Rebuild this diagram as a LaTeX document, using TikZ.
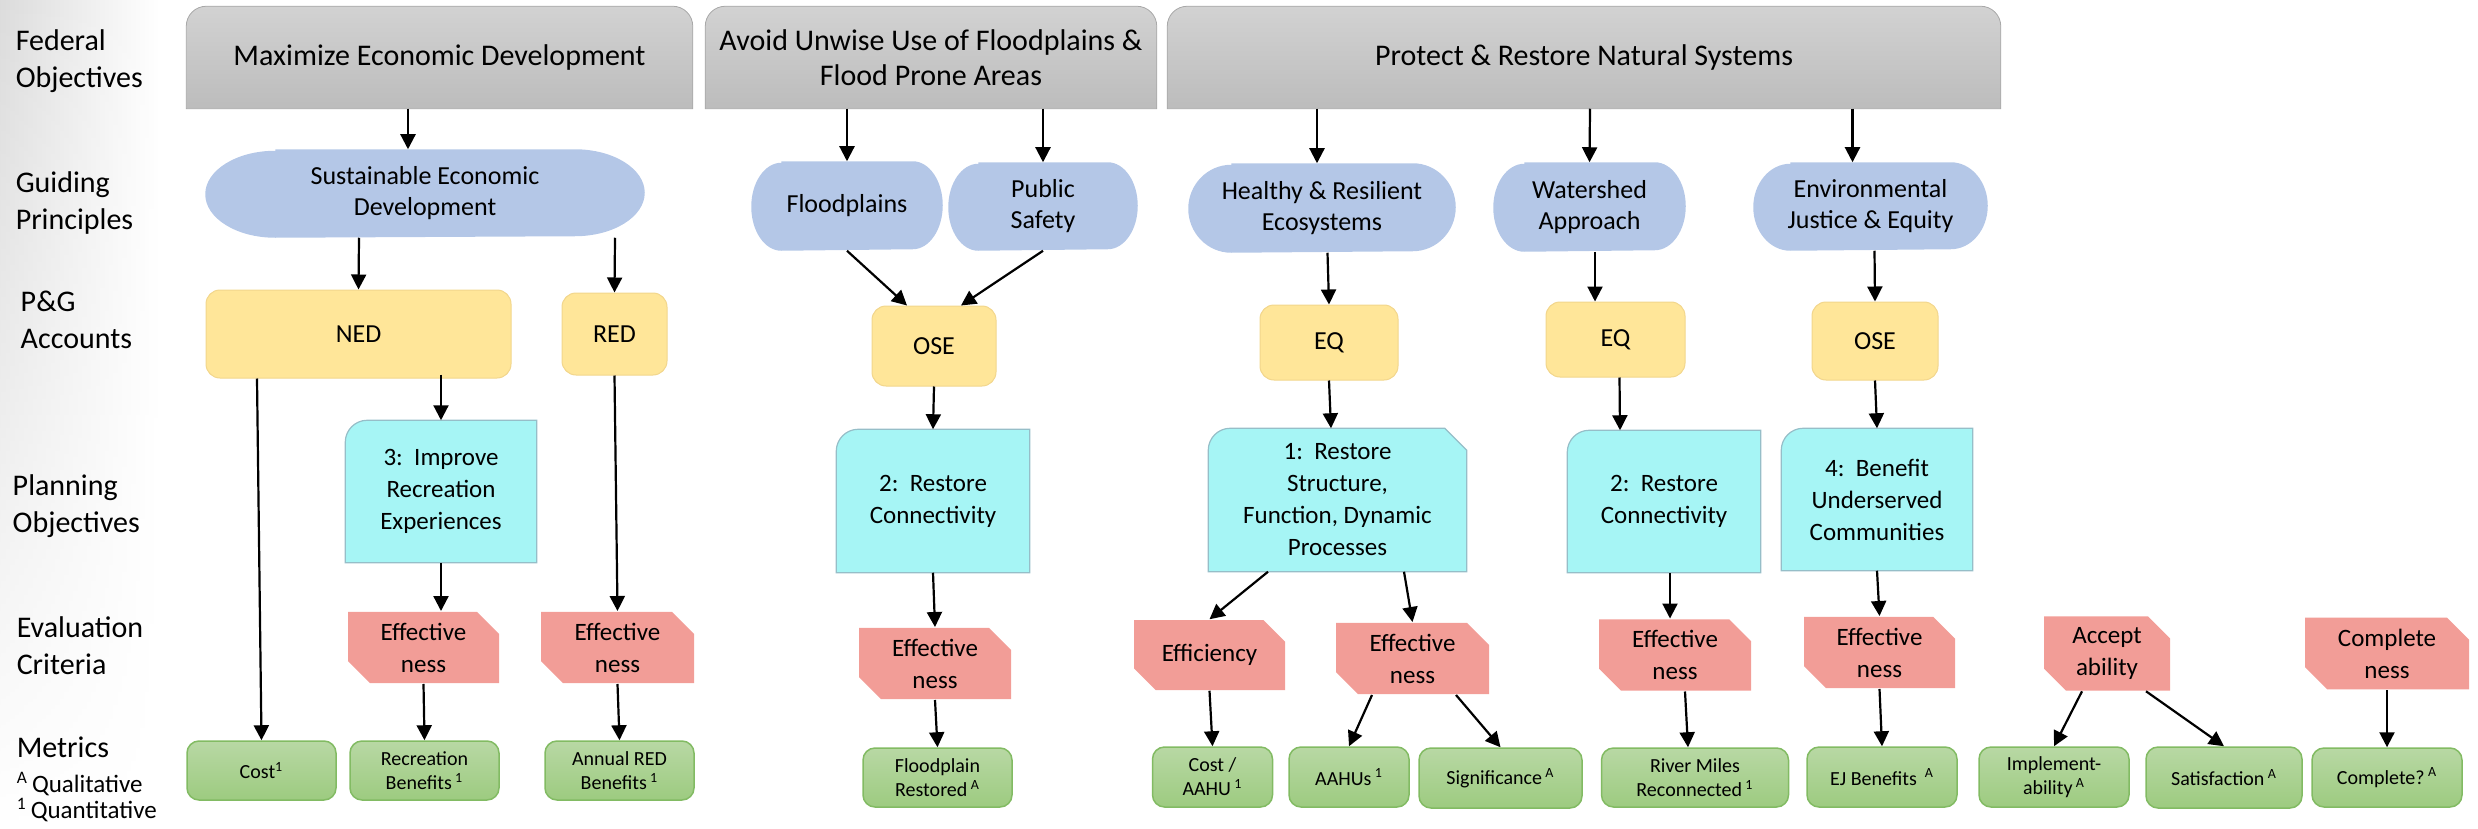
\documentclass[tikz,border=0pt]{standalone}
\usepackage{fontspec}
\setmainfont{Carlito}
\usetikzlibrary{arrows.meta,shapes.misc,calc,backgrounds,fadings}

\definecolor{fedtop}{RGB}{210,210,210}
\definecolor{fedbot}{RGB}{188,188,188}
\definecolor{fedline}{RGB}{168,168,168}
\definecolor{gpblue}{RGB}{180,199,231}
\definecolor{accyellow}{RGB}{255,230,153}
\definecolor{accline}{RGB}{242,214,140}
\definecolor{pocyan}{RGB}{166,245,245}
\definecolor{poline}{RGB}{150,190,200}
\definecolor{ecred}{RGB}{242,157,151}
\definecolor{mettop}{RGB}{184,216,164}
\definecolor{metbot}{RGB}{157,203,128}
\definecolor{metline}{RGB}{130,187,99}

\tikzset{every picture/.style={line width=0.75pt}}

\begin{document}
\begin{tikzpicture}[x=0.5pt,y=0.5pt,yscale=-1,xscale=1,
  arr/.style={-{Triangle[length=7.5pt,width=7.5pt]}, line width=1.1pt},
  rowlabel/.style={anchor=west, align=left, inner sep=0pt, font=\fontsize{15}{18.5}\selectfont},
  fedbox/.style={inner sep=0pt, align=center, font=\fontsize{15}{17.5}\selectfont},
  gpbox/.style={inner sep=0pt, align=center, font=\fontsize{13}{15.5}\selectfont},
  accbox/.style={rounded corners=7pt, fill=accyellow, draw=accline, line width=0.5pt, inner sep=0pt, font=\fontsize{13}{15.5}\selectfont},
  pobox/.style={inner sep=0pt, align=center, font=\fontsize{12.5}{16}\selectfont},
  ecbox/.style={chamfered rectangle, chamfered rectangle corners={north east,south west}, chamfered rectangle xsep=5.5pt, chamfered rectangle ysep=5.5pt, fill=ecred, inner sep=0pt, align=center, font=\fontsize{12.5}{16}\selectfont},
  metbox/.style={rounded corners=6pt, top color=mettop, bottom color=metbot, draw=metline, line width=0.75pt, inner sep=0pt, align=center, font=\fontsize{10}{12}\selectfont}]
\useasboundingbox (0,0) rectangle (2478,829);

% slide shading at the left edge
\shade[left color=black!14, right color=white, path fading=south] (0,0) rectangle (160,829);

% Row labels
\node[rowlabel] (lfed) at (15,61) {Federal\\Objectives};
\node[rowlabel] (lgp) at (15,203) {Guiding\\Principles};
\node[rowlabel] (lacc) at (20,320) {P\&G\\Accounts};
\node[rowlabel] (lpo) at (12,506) {Planning\\Objectives};
\node[rowlabel] (lec) at (16,646) {Evaluation\\Criteria};
\node[rowlabel] (lmet) at (16,747) {Metrics};
\node[anchor=west, align=left, inner sep=0pt, font=\fontsize{12.5}{13}\selectfont] (lkey) at (16,797) {\textsuperscript{A}\,Qualitative\\\textsuperscript{1}\,Quantitative};

% Federal objectives
\node[fedbox, minimum width=252.5pt, minimum height=50.5pt] (fedA) at (439.5,57.5) {Maximize Economic Development};
\node[fedbox, minimum width=225pt, minimum height=50.5pt] (fedB) at (931,57.5) {Avoid Unwise Use of Floodplains \&\\Flood Prone Areas};
\node[fedbox, minimum width=416pt, minimum height=50.5pt] (fedC) at (1584,57.5) {Protect \& Restore Natural Systems};

% Guiding principles
\node[gpbox, minimum width=219pt, minimum height=43.5pt] (sed) at (425,193.5) {Sustainable Economic\\Development};
\node[gpbox, minimum width=95pt, minimum height=44pt] (flood) at (847,206) {Floodplains};
\node[gpbox, minimum width=94pt, minimum height=43.5pt] (safety) at (1043,206.5) {Public\\Safety};
\node[gpbox, minimum width=133pt, minimum height=44pt] (heco) at (1322,208) {Healthy \& Resilient\\Ecosystems};
\node[gpbox, minimum width=95.5pt, minimum height=44pt] (water) at (1589.5,207) {Watershed\\Approach};
\node[gpbox, minimum width=116.5pt, minimum height=43.5pt] (ejust) at (1870.5,206.5) {Environmental\\Justice \& Equity};

% P&G accounts
\node[accbox, minimum width=152.5pt, minimum height=44pt] (ned) at (358.5,334) {NED};
\node[accbox, minimum width=52.5pt, minimum height=41pt] (red) at (614.5,334) {RED};
\node[accbox, minimum width=62pt, minimum height=40pt] (ose) at (934,346) {OSE};
\node[accbox, minimum width=69pt, minimum height=37.5pt] (eqA) at (1329,342.5) {EQ};
\node[accbox, minimum width=69.5pt, minimum height=37.5pt] (eqB) at (1615.5,339.5) {EQ};
\node[accbox, minimum width=63pt, minimum height=39pt] (oseB) at (1875,341) {OSE};

% Planning objectives
\node[pobox, minimum width=95pt, minimum height=70.5pt] (recr) at (441,491.5) {3:~~Improve\\Recreation\\Experiences};
\node[pobox, minimum width=96pt, minimum height=71pt] (connA) at (933,501) {2:~~Restore\\Connectivity};
\node[pobox, minimum width=128.5pt, minimum height=71pt] (rsf) at (1337.5,500) {1:~~Restore\\Structure,\\Function, Dynamic\\Processes};
\node[pobox, minimum width=96pt, minimum height=70.5pt] (connB) at (1664,501.5) {2:~~Restore\\Connectivity};
\node[pobox, minimum width=95pt, minimum height=70.5pt] (under) at (1877,499.5) {4:~~Benefit\\Underserved\\Communities};

% Evaluation criteria
\node[ecbox, minimum width=75.5pt, minimum height=35.5pt] (effA) at (423.5,647.5) {Effective\\ness};
\node[ecbox, minimum width=76.5pt, minimum height=35.5pt] (effB) at (617.5,647.5) {Effective\\ness};
\node[ecbox, minimum width=76pt, minimum height=35.5pt] (effC) at (935,663.5) {Effective\\ness};
\node[ecbox, minimum width=75.5pt, minimum height=35pt] (effic) at (1209.5,655) {Efficiency};
\node[ecbox, minimum width=76.5pt, minimum height=35.5pt] (effD) at (1412.5,658.5) {Effective\\ness};
\node[ecbox, minimum width=76pt, minimum height=35pt] (effE) at (1675,655) {Effective\\ness};
\node[ecbox, minimum width=75.5pt, minimum height=35.5pt] (effF) at (1879.5,652.5) {Effective\\ness};
\node[ecbox, minimum width=63pt, minimum height=35.5pt] (accept) at (2107,653.5) {Accept\\ability};
\node[ecbox, minimum width=82pt, minimum height=35.5pt] (compl) at (2387,653.5) {Complete\\ness};

% Metrics
\node[metbox, minimum width=74.5pt, minimum height=29.5pt] (cost) at (261.5,770.5) {Cost\textsuperscript{1}};
\node[metbox, minimum width=74.5pt, minimum height=29.5pt] (recb) at (424.5,770.5) {Recreation\\Benefits\,\textsuperscript{1}};
\node[metbox, minimum width=74.5pt, minimum height=29.5pt] (annual) at (619.5,770.5) {Annual RED\\Benefits\,\textsuperscript{1}};
\node[metbox, minimum width=74.5pt, minimum height=29.5pt] (fpr) at (937.5,777.5) {Floodplain\\Restored\,\textsuperscript{A}};
\node[metbox, minimum width=60pt, minimum height=30pt] (costa) at (1212.5,777) {Cost /\\AAHU\,\textsuperscript{1}};
\node[metbox, minimum width=60pt, minimum height=30pt] (aahu) at (1349,777) {AAHUs\,\textsuperscript{1}};
\node[metbox, minimum width=81.5pt, minimum height=30pt] (signif) at (1500.5,778) {Significance\,\textsuperscript{A}};
\node[metbox, minimum width=93.5pt, minimum height=29.5pt] (river) at (1695,777.5) {River Miles\\Reconnected\,\textsuperscript{1}};
\node[metbox, minimum width=75pt, minimum height=30pt] (ejb) at (1882,777) {EJ Benefits~\,\textsuperscript{A}};
\node[metbox, minimum width=75pt, minimum height=30pt] (implem) at (2054,777) {Implement-\\ability\,\textsuperscript{A}};
\node[metbox, minimum width=78pt, minimum height=30.5pt] (satis) at (2224,777.5) {Satisfaction\,\textsuperscript{A}};
\node[metbox, minimum width=75pt, minimum height=29.5pt] (compq) at (2387,777.5) {Complete?\,\textsuperscript{A}};

\begin{scope}[on background layer]
% gray objective boxes, rounded on top
\shadedraw[top color=fedtop, bottom color=fedbot, draw=fedline] (fedA.south west) -- ($(fedA.north west)+(0,20)$) arc[start angle=180, end angle=270, radius=20] -- ($(fedA.north east)+(-20,0)$) arc[start angle=270, end angle=360, radius=20] -- (fedA.south east) -- cycle;
\shadedraw[top color=fedtop, bottom color=fedbot, draw=fedline] (fedB.south west) -- ($(fedB.north west)+(0,20)$) arc[start angle=180, end angle=270, radius=20] -- ($(fedB.north east)+(-20,0)$) arc[start angle=270, end angle=360, radius=20] -- (fedB.south east) -- cycle;
\shadedraw[top color=fedtop, bottom color=fedbot, draw=fedline] (fedC.south west) -- ($(fedC.north west)+(0,20)$) arc[start angle=180, end angle=270, radius=20] -- ($(fedC.north east)+(-20,0)$) arc[start angle=270, end angle=360, radius=20] -- (fedC.south east) -- cycle;

% terminator shapes
\fill[gpblue] ($(sed.north west)+(70,0)$) -- ($(sed.north east)+(-70,0)$) arc[start angle=-90, end angle=90, x radius=70, y radius=43.5] -- ($(sed.south west)+(70,0)$) arc[start angle=90, end angle=270, x radius=70, y radius=43.5] -- cycle;
\fill[gpblue] ($(flood.north west)+(30,0)$) -- ($(flood.north east)+(-30,0)$) arc[start angle=-90, end angle=90, x radius=30, y radius=44] -- ($(flood.south west)+(30,0)$) arc[start angle=90, end angle=270, x radius=30, y radius=44] -- cycle;
\fill[gpblue] ($(safety.north west)+(30,0)$) -- ($(safety.north east)+(-30,0)$) arc[start angle=-90, end angle=90, x radius=30, y radius=43.5] -- ($(safety.south west)+(30,0)$) arc[start angle=90, end angle=270, x radius=30, y radius=43.5] -- cycle;
\fill[gpblue] ($(heco.north west)+(43,0)$) -- ($(heco.north east)+(-43,0)$) arc[start angle=-90, end angle=90, x radius=43, y radius=44] -- ($(heco.south west)+(43,0)$) arc[start angle=90, end angle=270, x radius=43, y radius=44] -- cycle;
\fill[gpblue] ($(water.north west)+(31,0)$) -- ($(water.north east)+(-31,0)$) arc[start angle=-90, end angle=90, x radius=31, y radius=44] -- ($(water.south west)+(31,0)$) arc[start angle=90, end angle=270, x radius=31, y radius=44] -- cycle;
\fill[gpblue] ($(ejust.north west)+(37,0)$) -- ($(ejust.north east)+(-37,0)$) arc[start angle=-90, end angle=90, x radius=37, y radius=43.5] -- ($(ejust.south west)+(37,0)$) arc[start angle=90, end angle=270, x radius=37, y radius=43.5] -- cycle;

% planning objective boxes, one rounded corner
\filldraw[fill=pocyan, draw=poline, line width=0.6pt] (recr.north east) -- (recr.south east) -- (recr.south west) -- ($(recr.north west)+(0,22)$) arc[start angle=180, end angle=270, radius=22] -- cycle;
\filldraw[fill=pocyan, draw=poline, line width=0.6pt] (connA.north east) -- (connA.south east) -- (connA.south west) -- ($(connA.north west)+(0,22)$) arc[start angle=180, end angle=270, radius=22] -- cycle;
\filldraw[fill=pocyan, draw=poline, line width=0.6pt] (rsf.south east) -- (rsf.south west) -- ($(rsf.north west)+(0,22)$) arc[start angle=180, end angle=270, radius=22] -- ($(rsf.north east)+(-22,0)$) -- ($(rsf.north east)+(0,22)$) -- cycle;
\filldraw[fill=pocyan, draw=poline, line width=0.6pt] (connB.north east) -- (connB.south east) -- (connB.south west) -- ($(connB.north west)+(0,22)$) arc[start angle=180, end angle=270, radius=22] -- cycle;
\filldraw[fill=pocyan, draw=poline, line width=0.6pt] (under.north east) -- (under.south east) -- (under.south west) -- ($(under.north west)+(0,22)$) arc[start angle=180, end angle=270, radius=22] -- cycle;
\end{scope}

% Maximize Economic Development column
\draw[arr] ([xshift=-15.75pt]fedA.south) -- ([xshift=-8.5pt]sed.north);
\draw[arr] ([xshift=-33pt]sed.south) -- (ned.north);
\draw[arr] ([xshift=95pt]sed.south) -- (red.north);
\draw[arr] ([xshift=-50.75pt]ned.south) -- (cost.north);
\draw[arr] ([xshift=41.25pt,yshift=-2pt]ned.south) -- (recr.north);
\draw[arr] (recr.south) -- ([xshift=8.75pt]effA.north);
\draw[arr] (red.south) -- (effB.north);
\draw[arr] (effA.south) -- (recb.north);
\draw[arr] (effB.south) -- (annual.north);

% Floodplains column
\draw[arr] ([xshift=-42pt]fedB.south) -- (flood.north);
\draw[arr] ([xshift=56pt]fedB.south) -- (safety.north);
\draw[arr] (flood.south) -- ([xshift=-13.5pt]ose.north);
\draw[arr] (safety.south) -- ([xshift=13.5pt]ose.north);
\draw[arr] (ose.south) -- (connA.north);
\draw[arr] (connA.south) -- (effC.north);
\draw[arr] (effC.south) -- (fpr.north);

% Natural systems column
\draw[arr] ([xshift=-133.5pt]fedC.south) -- ([xshift=-2.5pt]heco.north);
\draw[arr] ([xshift=3pt]fedC.south) -- (water.north);
\draw[arr] ([xshift=134.25pt]fedC.south) -- ([xshift=-9pt]ejust.north);
\draw[arr] ([xshift=2.75pt]heco.south) -- (eqA.north);
\draw[arr] ([xshift=2.75pt]water.south) -- ([xshift=-10.25pt]eqB.north);
\draw[arr] ([xshift=2pt]ejust.south) -- (oseB.north);
\draw[arr] (eqA.south) -- ([xshift=-3.25pt]rsf.north);
\draw[arr] ([xshift=2pt]eqB.south) -- ([xshift=-22pt]connB.north);
\draw[arr] (oseB.south) -- (under.north);
\draw[arr] ([xshift=-34.75pt]rsf.south) -- (effic.north);
\draw[arr] ([xshift=33.25pt]rsf.south) -- (effD.north);
\draw[arr] (effic.south) -- (costa.north);
\draw[arr] ([xshift=-20.25pt]effD.south) -- (aahu.north);
\draw[arr] ([xshift=21.75pt]effD.south) -- (signif.north);
\draw[arr] ([xshift=3pt]connB.south) -- ([xshift=-2.5pt]effE.north);
\draw[arr] ([xshift=5pt]effE.south) -- ([xshift=-3.5pt]river.north);
\draw[arr] (under.south) -- (effF.north);
\draw[arr] (effF.south) -- (ejb.north);
\draw[arr] ([xshift=-12.5pt]accept.south) -- (implem.north);
\draw[arr] ([xshift=19.5pt]accept.south) -- (satis.north);
\draw[arr] (compl.south) -- (compq.north);

\end{tikzpicture}
\end{document}
